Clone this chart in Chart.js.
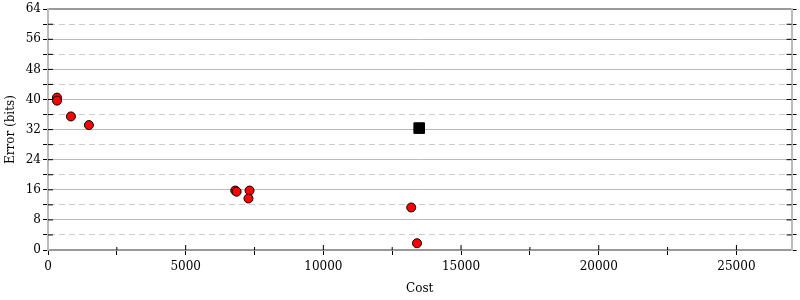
<!DOCTYPE html>
<html>
<head>
<meta charset="utf-8">
<script src="https://cdn.jsdelivr.net/npm/chart.js@4"></script>
<style>
  body { margin: 0; background: #fff; }
  #wrap { width: 800px; height: 300px; }
</style>
</head>
<body>
<div id="wrap"><canvas id="myChart"></canvas></div>
<script>
// data
const costs = [326, 326, 833, 1486, 6800, 6850, 7320, 7280, 13190, 13400];
const errors = [40.5, 39.7, 35.5, 33.2, 15.8, 15.5, 15.8, 13.7, 11.3, 1.8];
const bestCost = [13480];
const bestError = [32.4];

// tick positions (major ones get labels)
const xTicks = [0, 2500, 5000, 7500, 10000, 12500, 15000, 17500, 20000, 22500, 25000];
const yTicks = [0, 4, 8, 12, 16, 20, 24, 28, 32, 36, 40, 44, 48, 52, 56, 60, 64];

const xMax = 27000;
const yMax = 64;

Chart.defaults.font.family = "DejaVu Serif";
Chart.defaults.font.size = 12;
Chart.defaults.color = "#000";

// inner half of the tick marks (reference ticks cross the axis)
const innerTicks = {
    id: "innerTicks",
    afterDraw(chart) {
        const ctx = chart.ctx;
        const a = chart.chartArea;
        ctx.save();
        ctx.strokeStyle = "#000";
        ctx.lineWidth = 1;
        chart.scales.y.ticks.forEach((t) => {
            const py = chart.scales.y.getPixelForValue(t.value);
            if (t.value === 0 || t.value === yMax) return;
            ctx.beginPath();
            ctx.moveTo(a.left, py); ctx.lineTo(a.left + 5, py);
            ctx.moveTo(a.right, py); ctx.lineTo(a.right - 5, py);
            ctx.stroke();
        });
        chart.scales.x.ticks.forEach((t) => {
            const px = chart.scales.x.getPixelForValue(t.value);
            if (t.value === 0) return;
            ctx.beginPath();
            ctx.moveTo(px, a.bottom); ctx.lineTo(px, a.bottom - (t.value % 5000 === 0 ? 5 : 3));
            ctx.stroke();
        });
        ctx.restore();
    },
};

const data = {
    datasets: [
        {
            label: "runs",
            data: costs.map((c, i) => ({ x: c, y: errors[i] })),
            pointStyle: "circle",
            pointRadius: 4.5,
            backgroundColor: "#ff0000",
            borderColor: "#000",
            borderWidth: 1,
        },
        {
            label: "best",
            data: bestCost.map((c, i) => ({ x: c, y: bestError[i] })),
            pointStyle: "rect",
            pointRadius: 7.5,
            backgroundColor: "#000",
            borderColor: "#000",
            borderWidth: 1,
        },
    ],
};

const config = {
    type: "scatter",
    data: data,
    options: {
        responsive: true,
        maintainAspectRatio: false,
        animation: false,
        layout: { padding: 0 },
        plugins: {
            legend: { display: false },
            tooltip: { enabled: false },
        },
        scales: {
            x: {
                type: "linear",
                position: "bottom",
                min: 0,
                max: xMax,
                afterFit: (s) => { s.height = 50; },
                afterBuildTicks: (s) => { s.ticks = xTicks.map((v) => ({ value: v })); },
                ticks: {
                    autoSkip: false,
                    maxRotation: 0,
                    padding: 5,
                    callback: (v) => (v % 5000 === 0 ? String(v) : ""),
                },
                grid: {
                    drawOnChartArea: false,
                    tickLength: 5,
                    tickColor: "#000",
                },
                border: { color: "#999", width: 2 },
                title: { display: true, text: "Cost", padding: { top: 9 } },
            },
            x2: {
                type: "linear",
                position: "top",
                min: 0,
                max: xMax,
                afterFit: (s) => { s.height = 7; },
                ticks: { display: false },
                grid: { display: false },
                border: { color: "#999", width: 2 },
            },
            y: {
                type: "linear",
                position: "left",
                min: 0,
                max: yMax,
                afterFit: (s) => { s.width = 48; },
                afterBuildTicks: (s) => { s.ticks = yTicks.map((v) => ({ value: v })); },
                ticks: {
                    autoSkip: false,
                    padding: 2,
                    callback: (v) => (v % 8 === 0 ? String(v) : ""),
                },
                grid: {
                    color: (ctx) => {
                        const v = ctx.tick.value;
                        if (v === 0 || v === yMax) return "transparent";
                        return v % 8 === 0 ? "#bbb" : "#ccc";
                    },
                    tickColor: "#000",
                    tickLength: 5,
                },
                border: {
                    color: "#bbb",
                    width: 2,
                    dash: (ctx) => (ctx.tick && ctx.tick.value % 8 !== 0 ? [6, 4] : []),
                },
                title: { display: true, text: "Error (bits)", padding: { bottom: 2 } },
            },
            y3: {
                type: "linear",
                position: "right",
                min: 0,
                max: yMax,
                afterFit: (s) => { s.width = 7; },
                afterBuildTicks: (s) => { s.ticks = yTicks.map((v) => ({ value: v })); },
                ticks: { display: false, autoSkip: false },
                grid: { drawOnChartArea: false, tickColor: "#000", tickLength: 5 },
                border: { color: "#bbb", width: 2 },
            },
        },
    },
    plugins: [innerTicks],
};

const myChart = new Chart(document.getElementById("myChart").getContext("2d"), config);
</script>
</body>
</html>
